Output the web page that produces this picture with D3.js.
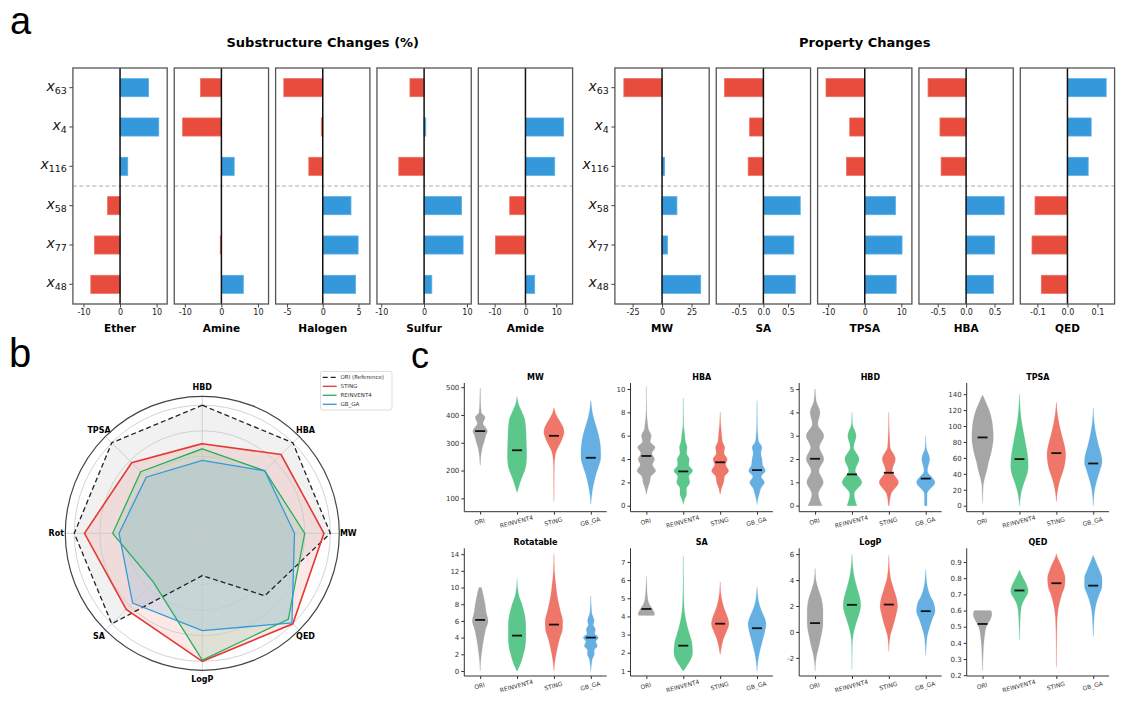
<!DOCTYPE html>
<html>
<head>
<meta charset="utf-8">
<script src="https://cdn.jsdelivr.net/npm/d3@7"></script>
<style>
body { margin: 0; background: #fff; }
svg text { font-family: "DejaVu Sans", sans-serif; }
</style>
</head>
<body>
<div id="fig"></div>
<script>
// ---------- panel a data ----------
const rowIds = ["63", "4", "116", "58", "77", "48"]

const subNames = ["Ether", "Amine", "Halogen", "Sulfur", "Amide"]
const etherChange = [7.8, 10.6, 2.1, -3.4, -7.0, -8.0]
const amineChange = [-5.7, -10.6, 3.5, 0, -0.3, 6.0]
const halogenChange = [-5.45, -0.2, -1.95, 3.95, 4.95, 4.6]
const sulfurChange = [-3.3, 0.4, -5.9, 8.75, 9.1, 1.8]
const amideChange = [0, 12.4, 9.5, -5.1, -9.7, 3.0]
const subTicks = [[-10, 0, 10], [-10, 0, 10], [-5, 0, 5], [-10, 0, 10], [-10, 0, 10]]
const subLimits = [12.9, 12.9, 6.6, 11, 15.3]

const propNames = ["MW", "SA", "TPSA", "HBA", "QED"]
const mwChange = [-32.4, 0, 2.1, 12.6, 4.6, 32.8]
const saChange = [-0.79, -0.28, -0.31, 0.75, 0.62, 0.65]
const tpsaChange = [-10.6, -4.1, -5.0, 8.4, 10.2, 8.6]
const hbaChange = [-0.67, -0.46, -0.44, 0.67, 0.50, 0.48]
const qedChange = [0.129, 0.079, 0.069, -0.108, -0.118, -0.087]
const propTicks = [[-25, 0, 25], [-0.5, 0, 0.5], [-10, 0, 10], [-0.5, 0, 0.5], [-0.1, 0, 0.1]]
const propLimits = [40, 0.96, 12.9, 0.83, 0.157]

// ---------- panel b data ----------
const radarAxes = ["HBD", "HBA", "MW", "QED", "LogP", "SA", "Rot", "TPSA"]
const oriRadar = [1.0, 1.0, 1.0, 0.69, 0.33, 1.0, 1.0, 1.0]
const stingRadar = [0.70, 0.87, 0.95, 1.0, 1.0, 0.84, 0.92, 0.78]
const reinventRadar = [0.66, 0.69, 0.80, 0.95, 0.99, 0.54, 0.70, 0.68]
const gbgaRadar = [0.57, 0.69, 0.72, 0.99, 0.76, 0.77, 0.65, 0.62]

// ---------- panel c data ----------
// each shape: [value, relative density] knots
const methods = ["ORI", "REINVENT4", "STING", "GB_GA"]

const mwMedians = [342, 273, 325, 246]
const mwShapes = [
    [[495, 0.02], [450, 0.04], [410, 0.1], [392, 0.45], [380, 0.35], [369, 0.25], [355, 0.5], [341, 0.67], [325, 0.5], [309, 0.4], [290, 0.25], [273, 0.15], [250, 0.06], [219, 0.02]],
    [[465, 0.02], [440, 0.12], [410, 0.45], [385, 0.7], [350, 0.8], [300, 0.85], [250, 0.88], [215, 0.8], [190, 0.6], [165, 0.35], [140, 0.15], [122, 0.02]],
    [[425, 0.02], [405, 0.15], [390, 0.35], [370, 0.65], [350, 0.88], [335, 0.92], [320, 0.8], [300, 0.6], [285, 0.4], [270, 0.22], [250, 0.1], [220, 0.04], [150, 0.02], [90, 0.01]],
    [[450, 0.02], [420, 0.1], [390, 0.25], [350, 0.55], [310, 0.8], [270, 0.9], [245, 0.9], [220, 0.75], [190, 0.5], [160, 0.3], [130, 0.15], [100, 0.05], [80, 0.01]]
]

const hbaMedians = [4.26, 2.94, 3.72, 3.05]
const hbaShapes = [
    [[10.2, 0.01], [8, 0.03], [7, 0.12], [6.5, 0.2], [6, 0.45], [5.5, 0.35], [5, 0.8], [4.5, 0.5], [4, 0.75], [3.5, 0.55], [3, 0.85], [2.5, 0.4], [2, 0.3], [1.5, 0.12], [1, 0.02]],
    [[9.2, 0.01], [7, 0.03], [6, 0.15], [5.5, 0.2], [5, 0.35], [4.5, 0.3], [4, 0.55], [3.5, 0.5], [3, 0.85], [2.5, 0.5], [2, 0.6], [1.5, 0.3], [1, 0.3], [0.5, 0.1], [0.1, 0.01]],
    [[8, 0.01], [7, 0.05], [6, 0.15], [5.5, 0.2], [5, 0.42], [4.5, 0.35], [4, 0.65], [3.5, 0.5], [3, 0.78], [2.5, 0.4], [2, 0.32], [1.5, 0.12], [1, 0.02]],
    [[9, 0.01], [7, 0.03], [6, 0.08], [5.5, 0.15], [5, 0.45], [4.5, 0.35], [4, 0.45], [3.5, 0.5], [3, 0.76], [2.5, 0.38], [2, 0.67], [1.5, 0.35], [1, 0.2], [0.5, 0.06], [0.1, 0.01]]
]

const hbdMedians = [2.01, 1.34, 1.41, 1.16]
const hbdShapes = [
    [[5, 0.02], [4.5, 0.1], [4, 0.45], [3.5, 0.25], [3, 0.8], [2.5, 0.4], [2, 0.8], [1.5, 0.35], [1, 0.75], [0.5, 0.3], [0, 0.65]],
    [[4, 0.01], [3.5, 0.05], [3, 0.38], [2.5, 0.15], [2, 0.65], [1.5, 0.3], [1, 0.9], [0.5, 0.2], [0, 0.45]],
    [[4, 0.01], [3.2, 0.04], [3, 0.06], [2.5, 0.12], [2, 0.6], [1.5, 0.3], [1, 0.88], [0.5, 0.2], [0, 0.04]],
    [[3, 0.01], [2.5, 0.05], [2, 0.36], [1.5, 0.15], [1, 0.84], [0.5, 0.12], [0, 0.12]]
]

const tpsaMedians = [85.7, 58.5, 66, 53]
const tpsaShapes = [
    [[139, 0.01], [130, 0.3], [120, 0.6], [107, 0.85], [95, 0.95], [85, 0.98], [75, 0.9], [65, 0.75], [55, 0.55], [45, 0.4], [35, 0.2], [25, 0.06], [10, 0.02], [3, 0.005]],
    [[140, 0.01], [120, 0.08], [105, 0.2], [90, 0.4], [75, 0.6], [62, 0.75], [50, 0.8], [40, 0.7], [30, 0.45], [20, 0.22], [10, 0.08], [0, 0.01]],
    [[130, 0.01], [115, 0.1], [100, 0.3], [88, 0.5], [75, 0.75], [65, 0.85], [55, 0.8], [45, 0.65], [35, 0.4], [25, 0.2], [15, 0.07], [5, 0.01]],
    [[122, 0.01], [105, 0.08], [90, 0.25], [75, 0.5], [62, 0.75], [55, 0.8], [45, 0.62], [35, 0.4], [25, 0.2], [15, 0.08], [0, 0.01]]
]

const rotMedians = [6.12, 4.24, 5.56, 4.0]
const rotShapes = [
    [[10, 0.12], [9, 0.3], [8, 0.45], [7, 0.55], [6, 0.72], [5, 0.5], [4, 0.35], [3, 0.22], [2, 0.12], [1, 0.04], [0, 0.01]],
    [[11, 0.01], [10, 0.05], [9, 0.18], [8, 0.45], [7, 0.65], [6, 0.78], [5, 0.8], [4, 0.8], [3, 0.75], [2, 0.58], [1, 0.35], [0.3, 0.12], [0, 0.03]],
    [[14, 0.01], [12, 0.05], [10, 0.2], [9, 0.3], [8, 0.45], [7, 0.62], [6, 0.8], [5, 0.78], [4, 0.55], [3, 0.35], [2, 0.2], [1, 0.07], [0, 0.01]],
    [[9, 0.01], [7, 0.08], [6, 0.3], [5.5, 0.22], [5, 0.42], [4.5, 0.35], [4, 0.7], [3.5, 0.45], [3, 0.6], [2.5, 0.3], [2, 0.32], [1.5, 0.15], [1, 0.08], [0, 0.01]]
]

const saMedians = [4.41, 2.39, 3.6, 3.35]
const saShapes = [
    [[6.2, 0.01], [5.5, 0.05], [5, 0.12], [4.7, 0.25], [4.5, 0.45], [4.3, 0.65], [4.15, 0.75], [4.05, 0.7]],
    [[7.3, 0.01], [5.5, 0.03], [4.5, 0.08], [4, 0.18], [3.5, 0.35], [3, 0.58], [2.5, 0.8], [2, 0.85], [1.6, 0.65], [1.3, 0.35], [1, 0.02]],
    [[5.9, 0.01], [5.3, 0.06], [4.8, 0.2], [4.3, 0.45], [4, 0.65], [3.6, 0.8], [3.2, 0.6], [2.8, 0.32], [2.4, 0.15], [1.9, 0.01]],
    [[5.6, 0.01], [5.2, 0.06], [4.8, 0.15], [4.3, 0.42], [3.9, 0.7], [3.6, 0.82], [3.2, 0.72], [2.8, 0.55], [2.4, 0.38], [2, 0.22], [1.5, 0.08], [1, 0.01]]
]

const logpMedians = [0.68, 2.09, 2.11, 1.6]
const logpShapes = [
    [[4.9, 0.01], [4, 0.08], [3.3, 0.3], [2.5, 0.6], [1.7, 0.72], [0.7, 0.72], [0.1, 0.65], [-0.5, 0.5], [-1, 0.38], [-1.6, 0.2], [-2.3, 0.06], [-3, 0.01]],
    [[6, 0.01], [5, 0.08], [4.2, 0.22], [3.3, 0.5], [2.5, 0.75], [2, 0.8], [1.3, 0.62], [0.6, 0.35], [-0.2, 0.12], [-1, 0.03], [-2.9, 0.005]],
    [[5.9, 0.01], [5, 0.05], [4.2, 0.15], [3.3, 0.45], [2.6, 0.7], [2, 0.8], [1.3, 0.65], [0.5, 0.4], [-0.2, 0.15], [-1, 0.03], [-1.5, 0.01]],
    [[4.8, 0.01], [4.2, 0.05], [3.5, 0.15], [2.8, 0.4], [2.2, 0.75], [1.6, 0.85], [1, 0.6], [0.2, 0.3], [-0.5, 0.1], [-1.8, 0.01]]
]

const qedMedians = [0.517, 0.724, 0.769, 0.754]
const qedShapes = [
    [[0.6, 0.75], [0.58, 0.85], [0.55, 0.75], [0.52, 0.5], [0.5, 0.35], [0.45, 0.2], [0.4, 0.12], [0.35, 0.07], [0.3, 0.04], [0.23, 0.01]],
    [[0.85, 0.01], [0.82, 0.2], [0.8, 0.35], [0.75, 0.7], [0.72, 0.8], [0.68, 0.55], [0.65, 0.3], [0.6, 0.12], [0.5, 0.04], [0.42, 0.01]],
    [[0.95, 0.01], [0.92, 0.15], [0.9, 0.3], [0.85, 0.6], [0.8, 0.8], [0.75, 0.75], [0.7, 0.5], [0.65, 0.3], [0.6, 0.15], [0.5, 0.05], [0.35, 0.02], [0.25, 0.01]],
    [[0.94, 0.01], [0.9, 0.25], [0.85, 0.55], [0.8, 0.8], [0.75, 0.8], [0.7, 0.55], [0.65, 0.3], [0.6, 0.15], [0.5, 0.04], [0.44, 0.01]]
]

// ---------- styling ----------
let width = 1123, height = 702
let blue = "#3498db", red = "#e74c3c"
let violinColors = ["#a6a6a6", "#5cc78b", "#ef776a", "#66afe3"]

// hyphen minus like the original figure
function hyphen(f) {
    return function (d) { return f(d).replace("\u2212", "-") }
}

let svg = d3.select("#fig").append("svg")
    .attr("width", width)
    .attr("height", height)
    .style("background", "#fff")

// panel letters
function panelLetter(t, x, y, size) {
    svg.append("text")
        .attr("x", x).attr("y", y)
        .text(t)
        .style("font-family", "'Liberation Sans', Arial, sans-serif")
        .style("font-size", size + "px")
}
panelLetter("a", 10, 34, 38)
panelLetter("b", 9, 367, 40)
panelLetter("c", 411, 368, 36)

// ================= panel a =================
let barTop = 68, barBottom = 304, boxW = 94.3, boxStep = 101.35

let yBand = d3.scaleBand()
    .domain(rowIds)
    .range([barTop, barBottom])

function drawBarGroup(names, series, ticks, limits, left0, title) {
    svg.append("text")
        .attr("x", left0 + (boxStep * 4 + boxW) / 2)
        .attr("y", 47)
        .attr("text-anchor", "middle")
        .style("font-size", "13px")
        .style("font-weight", "bold")
        .text(title)

    names.forEach(function (name, i) {
        let left = left0 + i * boxStep
        let x = d3.scaleLinear().domain([-limits[i], limits[i]]).range([left, left + boxW])
        let g = svg.append("g")
        let bh = yBand.bandwidth() * 0.46

        g.selectAll("rect.bar")
            .data(series[i])
            .enter().append("rect")
            .attr("class", "bar")
            .attr("x", d => Math.min(x(0), x(d)))
            .attr("width", d => Math.abs(x(d) - x(0)))
            .attr("y", (d, j) => yBand(rowIds[j]) + (yBand.bandwidth() - bh) / 2)
            .attr("height", bh)
            .attr("fill", d => d >= 0 ? blue : red)
            .attr("stroke", d => d >= 0 ? "#5dade2" : "#ec7063")
            .attr("stroke-width", 0.8)

        // separator between the two groups of rows
        g.append("line")
            .attr("x1", left).attr("x2", left + boxW)
            .attr("y1", yBand(rowIds[3])).attr("y2", yBand(rowIds[3]))
            .attr("stroke", "#aaa")
            .attr("stroke-width", 1)
            .attr("stroke-dasharray", "4,2.5")

        g.append("line")
            .attr("x1", x(0)).attr("x2", x(0))
            .attr("y1", barTop).attr("y2", barBottom)
            .attr("stroke", "#111")
            .attr("stroke-width", 1.5)

        g.append("rect")
            .attr("x", left).attr("y", barTop)
            .attr("width", boxW).attr("height", barBottom - barTop)
            .attr("fill", "none")
            .attr("stroke", "#555")
            .attr("stroke-width", 1.3)

        let fmt = Math.abs(ticks[i][2]) < 1 ? d3.format(".1f") : d3.format("d")
        let axis = g.append("g")
            .attr("transform", "translate(0," + barBottom + ")")
            .call(d3.axisBottom(x).tickValues(ticks[i]).tickSize(3.5).tickPadding(2).tickFormat(hyphen(fmt)))
        axis.select(".domain").remove()
        axis.selectAll("line").attr("stroke", "#444")
        axis.selectAll("text").style("font-size", "8px").attr("fill", "#222")
            .style("font-family", "'DejaVu Sans', sans-serif")

        g.append("text")
            .attr("x", left + boxW / 2)
            .attr("y", 332)
            .attr("text-anchor", "middle")
            .style("font-size", "10.5px")
            .style("font-weight", "bold")
            .text(name)

        if (i === 0) {
            rowIds.forEach(function (id) {
                let cy = yBand(id) + yBand.bandwidth() / 2
                g.append("line")
                    .attr("x1", left - 3.5).attr("x2", left)
                    .attr("y1", cy).attr("y2", cy)
                    .attr("stroke", "#444")
                let t = g.append("text")
                    .attr("x", left - 6)
                    .attr("y", cy + 3)
                    .attr("text-anchor", "end")
                    .attr("fill", "#111")
                t.append("tspan")
                    .style("font-style", "italic")
                    .style("font-size", "14px")
                    .text("x")
                t.append("tspan")
                    .attr("dy", 3)
                    .style("font-size", "9.5px")
                    .text(id)
            })
        }
    })
}

drawBarGroup(subNames, [etherChange, amineChange, halogenChange, sulfurChange, amideChange],
    subTicks, subLimits, 72.9, "Substructure Changes (%)")
drawBarGroup(propNames, [mwChange, saChange, tpsaChange, hbaChange, qedChange],
    propTicks, propLimits, 614.9, "Property Changes")

// ================= panel b: radar =================
let rcx = 202.3, rcy = 533.3
let rScale = d3.scaleLinear().domain([0, 1.07]).range([0, 137])
let nAx = radarAxes.length
function ang(i) { return i * 2 * Math.PI / nAx }
function pt(v, i) {
    return [rcx + rScale(v) * Math.sin(ang(i)), rcy - rScale(v) * Math.cos(ang(i))]
}

let radar = svg.append("g")
radar.append("circle")
    .attr("cx", rcx).attr("cy", rcy).attr("r", rScale(1.07))
    .attr("fill", "#fff")

let radarSeries = [
    { name: "ORI (Reference)", values: oriRadar, color: "#222", fill: "#888", alpha: 0.12, dash: "5,3", w: 1.3 },
    { name: "STING", values: stingRadar, color: "#e53935", fill: red, alpha: 0.12, dash: null, w: 1.6 },
    { name: "REINVENT4", values: reinventRadar, color: "#27ae60", fill: "#27ae60", alpha: 0.13, dash: null, w: 1.3 },
    { name: "GB_GA", values: gbgaRadar, color: "#3498db", fill: blue, alpha: 0.15, dash: null, w: 1.3 }
]

let lineGen = d3.line().curve(d3.curveLinearClosed)

radarSeries.forEach(function (s) {
    radar.append("path")
        .attr("d", lineGen(s.values.map(pt)))
        .attr("fill", s.fill)
        .attr("fill-opacity", s.alpha)
        .attr("stroke", "none")
})

// grid
;[0.2, 0.4, 0.6, 0.8, 1.0].forEach(function (v) {
    radar.append("circle")
        .attr("cx", rcx).attr("cy", rcy).attr("r", rScale(v))
        .attr("fill", "none")
        .attr("stroke", "#c8c8c8")
        .attr("stroke-width", 0.8)
})
radarAxes.forEach(function (a, i) {
    let p = pt(1.07, i)
    radar.append("line")
        .attr("x1", rcx).attr("y1", rcy)
        .attr("x2", p[0]).attr("y2", p[1])
        .attr("stroke", "#c8c8c8")
        .attr("stroke-width", 0.8)
    let q = [rcx + 146 * Math.sin(ang(i)), rcy - 146 * Math.cos(ang(i))]
    radar.append("text")
        .attr("x", q[0]).attr("y", q[1])
        .attr("text-anchor", "middle")
        .attr("dominant-baseline", "central")
        .style("font-size", "8px")
        .style("font-weight", "bold")
        .text(a)
})
radar.append("circle")
    .attr("cx", rcx).attr("cy", rcy).attr("r", rScale(1.07))
    .attr("fill", "none")
    .attr("stroke", "#444")
    .attr("stroke-width", 1.2)

radarSeries.forEach(function (s) {
    radar.append("path")
        .attr("d", lineGen(s.values.map(pt)))
        .attr("fill", "none")
        .attr("stroke", s.color)
        .attr("stroke-width", s.w)
        .attr("stroke-dasharray", s.dash)
})

// legend
let leg = svg.append("g")
leg.append("rect")
    .attr("x", 320.5).attr("y", 371.5)
    .attr("width", 71.5).attr("height", 38.5)
    .attr("rx", 2)
    .attr("fill", "#fff")
    .attr("fill-opacity", 0.85)
    .attr("stroke", "#d0d0d0")
    .attr("stroke-width", 0.7)
radarSeries.forEach(function (s, i) {
    let y = 377.3 + i * 9
    leg.append("line")
        .attr("x1", 322.7).attr("x2", 336.7)
        .attr("y1", y).attr("y2", y)
        .attr("stroke", s.color)
        .attr("stroke-width", 1.3)
        .attr("stroke-dasharray", s.dash)
    leg.append("text")
        .attr("x", 340.5).attr("y", y + 2)
        .style("font-size", "5.5px")
        .attr("fill", "#333")
        .text(s.name)
})

// ================= panel c: violins =================
let vLefts = [464.3, 630.5, 799.2, 966.7]
let vWidth = 142.4
let vRows = [{ top: 383, bottom: 511.7 }, { top: 548.3, bottom: 676 }]
let halfW = d3.scaleLinear().domain([0, 1]).range([0, 11])

let violinPanels = [
    { title: "MW", shapes: mwShapes, medians: mwMedians, domain: [52, 515], ticks: [100, 200, 300, 400, 500], fmt: "d" },
    { title: "HBA", shapes: hbaShapes, medians: hbaMedians, domain: [-0.51, 10.51], ticks: [0, 2, 4, 6, 8, 10], fmt: "d" },
    { title: "HBD", shapes: hbdShapes, medians: hbdMedians, domain: [-0.26, 5.26], ticks: [0, 1, 2, 3, 4, 5], fmt: "d" },
    { title: "TPSA", shapes: tpsaShapes, medians: tpsaMedians, domain: [-7.5, 154], ticks: [0, 20, 40, 60, 80, 100, 120, 140], fmt: "d" },
    { title: "Rotatable", shapes: rotShapes, medians: rotMedians, domain: [-0.6, 14.7], ticks: [0, 2, 4, 6, 8, 10, 12, 14], fmt: "d" },
    { title: "SA", shapes: saShapes, medians: saMedians, domain: [0.72, 7.75], ticks: [1, 2, 3, 4, 5, 6, 7], fmt: "d" },
    { title: "LogP", shapes: logpShapes, medians: logpMedians, domain: [-3.4, 6.45], ticks: [-2, 0, 2, 4, 6], fmt: "d" },
    { title: "QED", shapes: qedShapes, medians: qedMedians, domain: [0.195, 0.985], ticks: [0.2, 0.3, 0.4, 0.5, 0.6, 0.7, 0.8, 0.9], fmt: ".1f" }
]

violinPanels.forEach(function (p, k) {
    let row = vRows[Math.floor(k / 4)]
    let left = vLefts[k % 4]
    let x = d3.scalePoint().domain(methods).range([left, left + vWidth]).padding(0.43)
    let y = d3.scaleLinear().domain(p.domain).range([row.bottom, row.top])
    let g = svg.append("g")

    p.shapes.forEach(function (shape, m) {
        let cx = x(methods[m])
        let pts = shape.slice().sort((a, b) => b[0] - a[0])
        let area = d3.area()
            .curve(d3.curveMonotoneY)
            .y(d => y(d[0]))
            .x0(d => cx - halfW(d[1]))
            .x1(d => cx + halfW(d[1]))
        g.append("path")
            .attr("d", area(pts))
            .attr("fill", violinColors[m])
            .attr("stroke", violinColors[m])
            .attr("stroke-width", 0.3)
            .attr("stroke-opacity", 0.6)
        g.append("line")
            .attr("x1", cx - 5).attr("x2", cx + 5)
            .attr("y1", y(p.medians[m])).attr("y2", y(p.medians[m]))
            .attr("stroke", "#111")
            .attr("stroke-width", 1.8)
    })

    let ya = g.append("g")
        .attr("transform", "translate(" + left + ",0)")
        .call(d3.axisLeft(y).tickValues(p.ticks).tickSize(3).tickSizeOuter(0).tickPadding(2).tickFormat(hyphen(d3.format(p.fmt))))
    ya.select(".domain").attr("stroke", "#333").attr("d", "M0," + row.top + "V" + row.bottom)
    ya.selectAll("line").attr("stroke", "#333")
    ya.selectAll("text").style("font-size", "7px").attr("fill", "#333")
        .style("font-family", "'DejaVu Sans', sans-serif")

    let xa = g.append("g")
        .attr("transform", "translate(0," + row.bottom + ")")
        .call(d3.axisBottom(x).tickSize(3).tickSizeOuter(0).tickFormat(""))
    xa.select(".domain").attr("stroke", "#333").attr("d", "M" + left + ",0H" + (left + vWidth))
    xa.selectAll("line").attr("stroke", "#333")

    methods.forEach(function (mname) {
        let tx = x(mname), ty = row.bottom + 12
        g.append("text")
            .attr("x", tx).attr("y", ty)
            .attr("text-anchor", "middle")
            .attr("transform", "rotate(-15," + tx + "," + ty + ")")
            .style("font-size", "6px")
            .attr("fill", "#333")
            .text(mname)
    })

    g.append("text")
        .attr("x", left + vWidth / 2)
        .attr("y", row.top - 3)
        .attr("text-anchor", "middle")
        .style("font-size", "8px")
        .style("font-weight", "bold")
        .text(p.title)
})
</script>
</body>
</html>
